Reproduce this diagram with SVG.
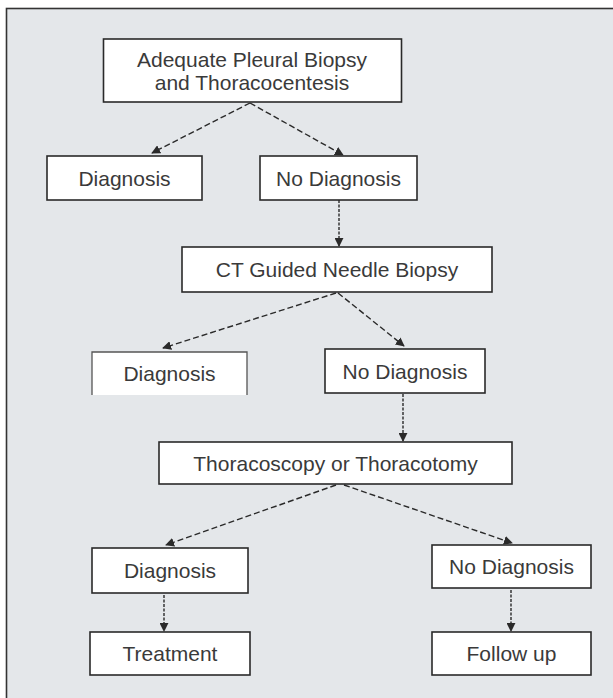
<svg xmlns="http://www.w3.org/2000/svg" width="613" height="698" viewBox="0 0 613 698">
<style>
.box{fill:#ffffff;stroke:#2a2a2a;stroke-width:1.6}
.lbl{font-family:"Liberation Sans",Arial,sans-serif;font-size:21px;fill:#3a3a3a;text-anchor:middle}
.dash{fill:none;stroke:#2a2a2a;stroke-width:1.4;stroke-dasharray:6 3}
.dot{fill:none;stroke:#2a2a2a;stroke-width:1.4;stroke-dasharray:3 1.5}
</style>
<defs>
<marker id="ah" viewBox="0 0 10 10" refX="9" refY="5" markerWidth="9" markerHeight="9" markerUnits="userSpaceOnUse" orient="auto">
<path d="M0,0 L10,5 L0,10 z" fill="#2a2a2a"/>
</marker>
</defs>
<rect x="0" y="0" width="613" height="698" fill="#ffffff"/>
<rect x="6.5" y="8.5" width="620" height="700" fill="#e4e7ea" stroke="#333" stroke-width="1.6"/>

<g id="connectors">
<line class="dash" x1="250" y1="103" x2="152" y2="153" marker-end="url(#ah)"/>
<line class="dash" x1="250" y1="103" x2="343" y2="155" marker-end="url(#ah)"/>
<line class="dot" x1="339" y1="200" x2="339" y2="246" marker-end="url(#ah)"/>
<line class="dash" x1="336" y1="293" x2="163" y2="348" marker-end="url(#ah)"/>
<line class="dash" x1="338" y1="293" x2="404" y2="346" marker-end="url(#ah)"/>
<line class="dot" x1="403" y1="394" x2="403" y2="441" marker-end="url(#ah)"/>
<line class="dash" x1="336" y1="485" x2="166" y2="545" marker-end="url(#ah)"/>
<line class="dash" x1="344" y1="485" x2="512" y2="543" marker-end="url(#ah)"/>
<line class="dot" x1="164" y1="595" x2="164" y2="631" marker-end="url(#ah)"/>
<line class="dot" x1="511" y1="590" x2="511" y2="631" marker-end="url(#ah)"/>
</g>

<g id="n_top">
<rect class="box" x="103.5" y="39" width="298" height="63"/>
<text class="lbl" x="252" y="67">Adequate Pleural Biopsy</text>
<text class="lbl" x="252" y="90">and Thoracocentesis</text>
</g>
<g id="n_diag1">
<rect class="box" x="47" y="156" width="155" height="44"/>
<text class="lbl" x="124.5" y="185.5">Diagnosis</text>
</g>
<g id="n_nodiag1">
<rect class="box" x="260" y="156" width="157" height="44"/>
<text class="lbl" x="338.5" y="185.5">No Diagnosis</text>
</g>
<g id="n_ct">
<rect class="box" x="182" y="247" width="310" height="45"/>
<text class="lbl" x="337" y="277">CT Guided Needle Biopsy</text>
</g>
<g id="n_diag2">
<rect x="92" y="352" width="155" height="43" fill="#ffffff"/>
<path d="M92,395 V352 H247 V395" fill="none" stroke="#555" stroke-width="1.3"/>
<text class="lbl" x="169.5" y="381">Diagnosis</text>
</g>
<g id="n_nodiag2">
<rect class="box" x="325" y="349" width="160" height="44"/>
<text class="lbl" x="405" y="378.5">No Diagnosis</text>
</g>
<g id="n_thoraco">
<rect class="box" x="159" y="442" width="353" height="42"/>
<text class="lbl" x="335.5" y="470.5">Thoracoscopy or Thoracotomy</text>
</g>
<g id="n_diag3">
<rect class="box" x="92" y="548" width="156" height="45"/>
<text class="lbl" x="170" y="578">Diagnosis</text>
</g>
<g id="n_nodiag3">
<rect class="box" x="432" y="545" width="159" height="43"/>
<text class="lbl" x="511.5" y="574">No Diagnosis</text>
</g>
<g id="n_treatment">
<rect class="box" x="90" y="632" width="160" height="43"/>
<text class="lbl" x="170" y="661">Treatment</text>
</g>
<g id="n_followup">
<rect class="box" x="432" y="632" width="159" height="43"/>
<text class="lbl" x="511.5" y="661">Follow up</text>
</g>
</svg>
